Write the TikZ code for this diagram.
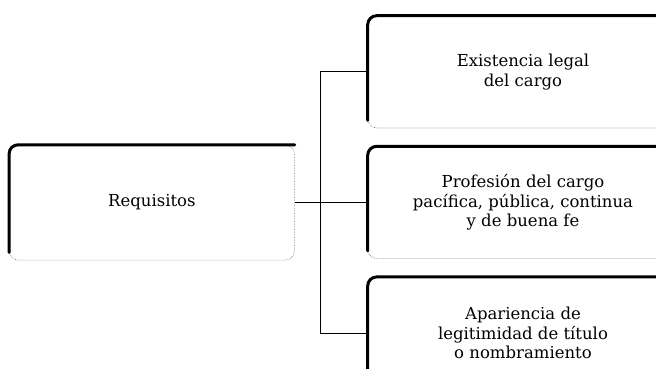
\documentclass[tikz,border=0pt]{standalone}
\usepackage{fontspec}
\setmainfont{DejaVu Serif}
\usetikzlibrary{positioning}

\tikzset{
    reqbox/.style={
        rectangle,
        rounded corners=9pt,
        draw=black!55,
        densely dotted,
        line width=0.6pt,
        align=center,
        font=\fontsize{16.5}{19.5}\selectfont,
    },
    leftbox/.style={reqbox, minimum width=285pt, minimum height=115pt},
    rightbox/.style={reqbox, minimum width=310pt, minimum height=112pt},
    thickedge/.style={line width=3pt, rounded corners=9pt, line cap=round},
    branch/.style={line width=1pt},
}

\begin{document}
\begin{tikzpicture}
        \clip (0,0) rectangle (656pt,-369pt);

        % right column
        \node[rightbox] (legal) at (523pt,-72pt) {Existencia legal\\del cargo};
        \node[rightbox, below=18pt of legal] (profesion)
            {Profesión del cargo\\pacífica, pública, continua\\y de buena fe};
        \node[rightbox, below=18pt of profesion] (apariencia)
            {Apariencia de\\legitimidad de título\\o nombramiento};

        % left box
        \node[leftbox, left=73pt of profesion] (req) {Requisitos};

        % heavy top and left border
        \foreach \b in {req, legal, profesion, apariencia} {
            \draw[thickedge] ([yshift=8pt]\b.south west) -- (\b.north west) -- (\b.north east);
        }

        % connectors
        \draw[branch] (req.east) -- (profesion.west);
        \draw[branch] (legal.west) -- ++(-47pt,0) |- (apariencia.west);
    \end{tikzpicture}
\end{document}
